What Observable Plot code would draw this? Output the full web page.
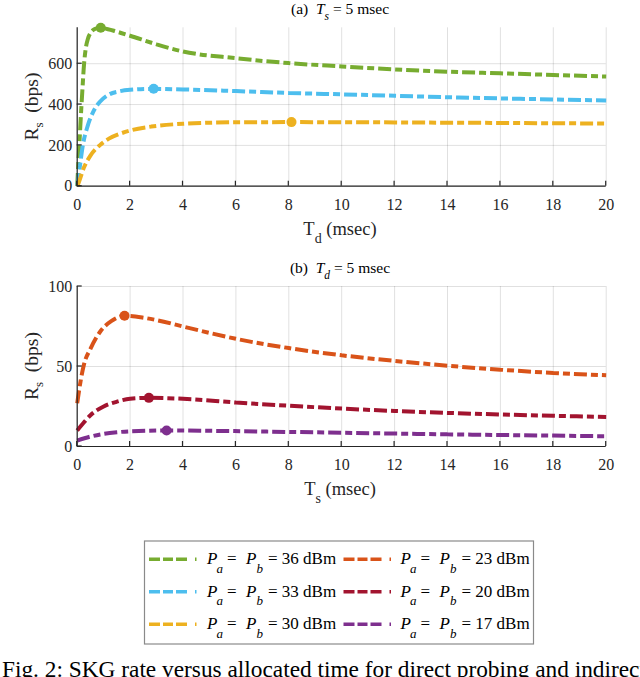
<!DOCTYPE html>
<html>
<head>
<meta charset="utf-8">
<script src="https://cdn.jsdelivr.net/npm/d3@7"></script>
<script src="https://cdn.jsdelivr.net/npm/@observablehq/plot@0.6"></script>
<style>
  body { margin: 0; background: #fff; }
  #wrap { position: relative; width: 640px; height: 677px; overflow: hidden; font-family: "Liberation Serif", "Times New Roman", serif; }
  #wrap svg text { font-family: "Liberation Serif", "Times New Roman", serif; }
</style>
</head>
<body>
<div id="wrap"></div>
<script>
// ---------- data ----------
const xTicks = [0, 2, 4, 6, 8, 10, 12, 14, 16, 18, 20];
const yTicksA = [0, 200, 400, 600];
const yTicksB = [0, 50, 100];
const yMaxA = 776;
const yMaxB = 100;

const seriesA = ["36 dBm", "33 dBm", "30 dBm"];
const seriesB = ["23 dBm", "20 dBm", "17 dBm"];
const colorsA = ["#77AC30", "#4DBEEE", "#EDB120"];
const colorsB = ["#D95319", "#A2142F", "#7E2F8E"];

// (a) Ts = 5 msec, x = Td (msec), y = Rs (bps)
const td36 = [0, 0.05, 0.1, 0.15, 0.2, 0.26, 0.33, 0.4, 0.5, 0.6, 0.7, 0.89, 1.0, 1.5, 2, 3, 4, 6, 8, 10, 12, 14, 16, 18, 20];
const rs36 = [0, 130, 250, 370, 480, 600, 680, 720, 750, 765, 772, 776, 774, 757, 737, 695, 660, 627, 603, 587, 572, 561, 553, 545, 537];
const td33 = [0, 0.1, 0.2, 0.4, 0.6, 0.85, 1.2, 1.6, 2, 2.89, 4, 6, 8, 10, 12, 14, 16, 18, 20];
const rs33 = [0, 95, 190, 297, 363, 412, 449, 465, 472, 477, 474, 466, 457, 450, 443, 436, 430, 425, 420];
const td30 = [0, 0.05, 0.25, 0.5, 0.85, 1.2, 1.6, 2, 2.8, 4, 5, 6, 8.1, 10, 12, 14, 16, 18, 20];
const rs30 = [0, 15, 90, 150, 200, 233, 256, 273, 292, 306, 311, 313, 314, 313.5, 312.5, 311, 310, 308.5, 307];
const peakTd = [0.89, 2.89, 8.1];
const peakRsA = [776, 477, 314];

// (b) Td = 5 msec, x = Ts (msec), y = Rs (bps)
const ts23 = [0, 0.13, 0.26, 0.5, 0.9, 1.3, 1.79, 2.5, 3, 4, 5, 6, 8, 10, 12, 14, 16, 18, 20];
const rs23 = [27, 41, 51.5, 61, 72.5, 78.5, 81.7, 80.5, 79, 75, 71, 67.3, 61.5, 57, 53.5, 50.5, 48, 46, 44.5];
const ts20 = [0, 0.25, 0.5, 1, 1.5, 2, 2.71, 4, 6, 8, 10, 12, 14, 16, 18, 20];
const rs20 = [10, 15, 19.5, 25, 28, 29.8, 30.4, 29.8, 27.5, 25.5, 23.7, 22.2, 21, 20, 19.2, 18.5];
const ts17 = [0, 0.5, 1, 1.5, 2, 3.38, 5, 8, 10, 12, 14, 16, 18, 20];
const rs17 = [3.7, 6.2, 7.9, 8.9, 9.5, 10, 9.8, 9.1, 8.6, 8.1, 7.6, 7.2, 6.8, 6.4];
const peakTs = [1.79, 2.71, 3.38];
const peakRsB = [81.7, 30.4, 10.0];

const captionText = "Fig. 2: SKG rate versus allocated time for direct probing and indirect probing.";

// ---------- chart builder ----------
const FONT = '"Liberation Serif", "Times New Roman", serif';
const INK = "#262626";

function makeChart(cfg) {
  const data = cfg.series.flatMap((s, i) => cfg.xs[i].map((x, j) => ({s, x, y: cfg.ys[i][j]})));
  const peaks = cfg.series.map((s, i) => ({s, x: cfg.peakX[i], y: cfg.peakY[i]}));
  const chart = Plot.plot({
    width: 640,
    height: cfg.height,
    marginTop: cfg.marginTop,
    marginBottom: cfg.marginBottom,
    marginLeft: 76.7,
    marginRight: 34.3,
    style: {fontFamily: FONT, fontSize: "16px", color: INK, background: "transparent", overflow: "visible"},
    x: {domain: [0, 20]},
    y: {domain: [0, cfg.yMax]},
    color: {domain: cfg.series, range: cfg.colors},
    marks: [
      Plot.gridX(xTicks, {stroke: "#000", strokeOpacity: 0.12, strokeWidth: 1}),
      Plot.gridY(cfg.yTicks, {stroke: "#000", strokeOpacity: 0.12, strokeWidth: 1}),
      Plot.line(data, {x: "x", y: "y", z: "s", stroke: "s", strokeWidth: 4, strokeLinecap: "butt", strokeLinejoin: "miter",
        strokeDasharray: "13,4,7,4", curve: "monotone-x"}),
      Plot.dot(peaks, {x: "x", y: "y", fill: "s", r: 5}),
      Plot.ruleX([0], {stroke: INK, strokeWidth: 1.2}),
      Plot.ruleY([0], {stroke: INK, strokeWidth: 1.2}),
      Plot.axisX(xTicks, {tickSize: 0, tickPadding: 12, label: null, fill: INK, fontSize: 16}),
      Plot.axisY(cfg.yTicks, {tickSize: 0, tickPadding: 5, label: null, fill: INK, fontSize: 16})
    ]
  });
  const sx = chart.scale("x"), sy = chart.scale("y");
  const svg = d3.select(chart);
  svg.style("position", "absolute").style("left", "0px");
  const x0 = sx.apply(0), y0 = sy.apply(0);
  const g = svg.append("g").attr("stroke", INK).attr("stroke-width", 1.2);
  xTicks.forEach(t => g.append("line").attr("x1", sx.apply(t)).attr("x2", sx.apply(t)).attr("y1", y0).attr("y2", y0 - 5));
  cfg.yTicks.forEach(t => g.append("line").attr("x1", x0).attr("x2", x0 + 5).attr("y1", sy.apply(t)).attr("y2", sy.apply(t)));

  // title
  const title = svg.append("text").attr("x", 340).attr("y", cfg.titleY)
    .attr("text-anchor", "middle").attr("font-size", 15.5)
    .attr("fill", "#000").style("white-space", "pre");
  title.append("tspan").text(cfg.titlePrefix + "  ");
  title.append("tspan").attr("font-style", "italic").text("T");
  title.append("tspan").attr("font-style", "italic").attr("font-size", 11.5).attr("dy", 6).text(cfg.titleSub);
  title.append("tspan").attr("dy", -6).text(" = 5 msec");

  // x label
  const xl = svg.append("text").attr("x", 340).attr("y", cfg.xLabelY)
    .attr("text-anchor", "middle").attr("font-size", 18.5)
    .attr("fill", INK).style("white-space", "pre");
  xl.append("tspan").text("T");
  xl.append("tspan").attr("font-size", 14).attr("dy", 7.5).text(cfg.xSub);
  xl.append("tspan").attr("dy", -7.5).text(" (msec)");

  // y label
  const yc = (sy.apply(0) + sy.apply(cfg.yMax)) / 2;
  const yl = svg.append("text").attr("transform", `translate(37.7,${yc}) rotate(-90)`)
    .attr("text-anchor", "middle").attr("font-size", 19.5)
    .attr("fill", INK).style("white-space", "pre");
  yl.append("tspan").text("R");
  yl.append("tspan").attr("font-size", 13).attr("dy", 5).text("s");
  yl.append("tspan").attr("dy", -5).text("  (bps)");
  return chart;
}

const wrap = document.getElementById("wrap");

const chartA = makeChart({
  series: seriesA, colors: colorsA,
  xs: [td36, td33, td30], ys: [rs36, rs33, rs30],
  peakX: peakTd, peakY: peakRsA,
  yTicks: yTicksA, yMax: yMaxA,
  height: 250, marginTop: 27.3, marginBottom: 64.3,
  titleY: 14, titlePrefix: "(a)", titleSub: "s",
  xLabelY: 235, xSub: "d"
});
chartA.style.top = "0px";
wrap.appendChild(chartA);

const chartB = makeChart({
  series: seriesB, colors: colorsB,
  xs: [ts23, ts20, ts17], ys: [rs23, rs20, rs17],
  peakX: peakTs, peakY: peakRsB,
  yTicks: yTicksB, yMax: yMaxB,
  height: 260, marginTop: 36, marginBottom: 64,
  titleY: 22.5, titlePrefix: "(b)", titleSub: "d",
  xLabelY: 245, xSub: "s"
});
chartB.style.top = "250px";
wrap.appendChild(chartB);

// ---------- legend + caption overlay ----------
const legendItems = [
  {label: seriesA[0], color: colorsA[0], col: 0, row: 0},
  {label: seriesA[1], color: colorsA[1], col: 0, row: 1},
  {label: seriesA[2], color: colorsA[2], col: 0, row: 2},
  {label: seriesB[0], color: colorsB[0], col: 1, row: 0},
  {label: seriesB[1], color: colorsB[1], col: 1, row: 1},
  {label: seriesB[2], color: colorsB[2], col: 1, row: 2}
];
const leg = d3.select(wrap).append("svg")
  .attr("width", 640).attr("height", 147)
  .style("position", "absolute").style("left", "0px").style("top", "530px");
leg.append("rect").attr("x", 144.5).attr("y", 11).attr("width", 389).attr("height", 103)
  .attr("fill", "#fff").attr("stroke", "#8a8a8a").attr("stroke-width", 1.2);
legendItems.forEach(d => {
  const cy = 29.3 + d.row * 32.5;
  const lx = d.col === 0 ? 149 : 343.5;
  const tx = d.col === 0 ? 207 : 400.5;
  leg.append("line").attr("x1", lx).attr("x2", lx + 48).attr("y1", cy).attr("y2", cy)
    .attr("stroke", d.color).attr("stroke-width", 3.6).attr("stroke-dasharray", "11,3,10,3,11,8,1.5,20");
  const t = leg.append("text").attr("font-size", 17).attr("fill", "#000")
    .attr("y", cy + 5).style("white-space", "pre");
  t.append("tspan").attr("x", tx).attr("font-style", "italic").text("P");
  t.append("tspan").attr("x", tx + 9.5).attr("dy", 8.5).attr("font-style", "italic").attr("font-size", 13).text("a");
  t.append("tspan").attr("x", tx + 20).attr("dy", -8.5).text("=");
  t.append("tspan").attr("x", tx + 39).attr("font-style", "italic").text("P");
  t.append("tspan").attr("x", tx + 49.5).attr("dy", 8.5).attr("font-style", "italic").attr("font-size", 13).text("b");
  t.append("tspan").attr("x", tx + 61).attr("dy", -8.5).text("= " + d.label);
});

// caption (cropped by the page edge as in the reference)
const cap = leg.append("text").attr("x", 2).attr("y", 147).attr("font-size", 20).attr("fill", "#000")
  .style("white-space", "pre").text(captionText);
// size so that "... and indirec" reaches the right edge, as in the reference
const probe = leg.append("text").attr("font-size", 20).style("white-space", "pre")
  .text("Fig. 2: SKG rate versus allocated time for direct probing and indirec");
const w20 = probe.node().getComputedTextLength();
probe.remove();
if (w20 > 0) cap.attr("font-size", Math.min(26, 20 * 638 / w20));
</script>
</body>
</html>
